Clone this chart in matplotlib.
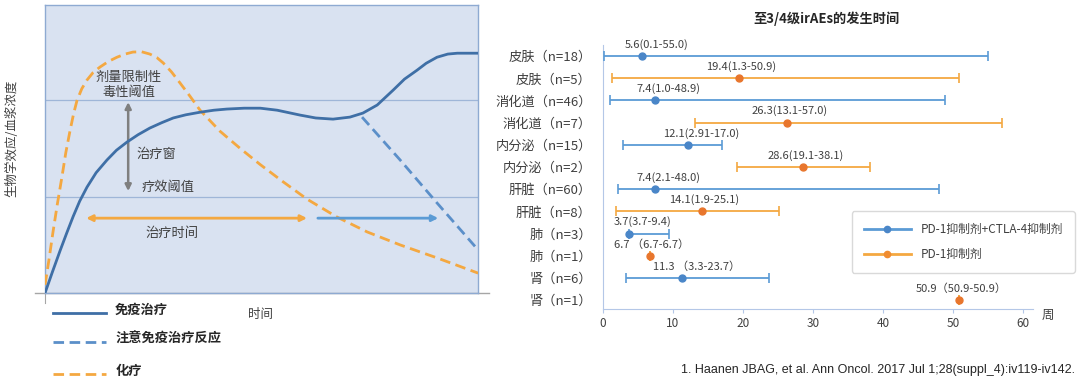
import matplotlib
matplotlib.use("Agg")
import matplotlib.pyplot as plt
from matplotlib.lines import Line2D

plt.rcParams["font.family"] = ["Noto Sans CJK SC", "DejaVu Sans"]

# ---- left panel: schematic curves (x: time 0-100, y: effect 0-100) ----
immuno_x = [0, 1.7, 3.5, 5.0, 6.5, 8.0, 9.7, 11.8, 14.3, 16.5, 18.9, 21.5, 24.2, 27.0,
            29.6, 32.5, 35.8, 39.0, 42.0, 46.0, 49.7, 53.6, 58.9, 62.5, 66.5, 70.4,
            73.4, 76.7, 80.4, 83.0, 85.9, 88.0, 90.5, 93.0, 95.2, 100]
immuno_y = [0, 7.3, 14.8, 20.8, 26.6, 31.9, 36.8, 41.8, 46.2, 49.6, 52.4, 55.0, 57.3, 59.2,
            60.8, 61.9, 62.8, 63.5, 63.9, 64.2, 64.2, 63.5, 61.8, 60.8, 60.4, 61.1,
            62.5, 65.3, 70.5, 74.3, 77.4, 79.8, 81.9, 83.0, 83.3, 83.3]
reaction_x = [73.2, 82.0, 90.5, 99.8]
reaction_y = [61.1, 46.2, 31.3, 15.3]
chemo_x = [0, 0.9, 1.8, 2.8, 3.9, 4.8, 5.8, 6.6, 7.4, 8.5, 9.7, 11.1, 12.7, 14.6, 16.6,
           18.5, 20.3, 22.3, 24.2, 25.8, 27.3, 29.2, 31.2, 33.5, 35.8, 40.4, 45.0, 49.7,
           55.0, 60.5, 67.4, 74.4, 82.0, 90.5, 100]
chemo_y = [2.8, 11.5, 20.8, 30.5, 40.3, 48.8, 56.6, 62.3, 67.0, 71.0, 74.0, 76.6, 78.5, 80.4,
           81.9, 83.0, 83.7, 83.8, 83.0, 81.8, 79.9, 76.8, 72.9, 68.3, 63.5, 56.2, 50.3, 44.6,
           38.6, 32.6, 26.4, 21.2, 16.7, 12.2, 6.9]
toxic_level = 67.0
effect_level = 33.3

# ---- right panel: onset of grade 3/4 irAEs (weeks) ----
rows = ["皮肤（n=18）", "皮肤（n=5）", "消化道（n=46）", "消化道（n=7）",
        "内分泌（n=15）", "内分泌（n=2）", "肝脏（n=60）", "肝脏（n=8）",
        "肺（n=3）", "肺（n=1）", "肾（n=6）", "肾（n=1）"]
median = [5.6, 19.4, 7.4, 26.3, 12.1, 28.6, 7.4, 14.1, 3.7, 6.7, 11.3, 50.9]
low = [0.1, 1.3, 1.0, 13.1, 2.91, 19.1, 2.1, 1.9, 3.7, 6.7, 3.3, 50.9]
high = [55.0, 50.9, 48.9, 57.0, 17.0, 38.1, 48.0, 25.1, 9.4, 6.7, 23.7, 50.9]
value_labels = ["5.6(0.1-55.0)", "19.4(1.3-50.9)", "7.4(1.0-48.9)", "26.3(13.1-57.0)",
                "12.1(2.91-17.0)", "28.6(19.1-38.1)", "7.4(2.1-48.0)", "14.1(1.9-25.1)",
                "3.7(3.7-9.4)", "6.7 （6.7-6.7）", "11.3 （3.3-23.7）", "50.9（50.9-50.9）"]
group = ["combo", "mono"] * 6

BLUE_DARK = "#3f6fa6"
BLUE = "#5b9bd5"
ORANGE = "#f4a841"
TEXT = "#404040"

fig = plt.figure(figsize=(10.8, 3.89), dpi=100)

# left schematic
ax = fig.add_axes([0.0417, 0.2468, 0.401, 0.740])
ax.set_facecolor("#d9e2f1")
ax.set_xlim(0, 100)
ax.set_ylim(0, 100)
ax.set_xticks([])
ax.set_yticks([])
for s in ax.spines.values():
    s.set_color("#8eaad2")
    s.set_linewidth(1.0)
ax.axhline(toxic_level, color="#9fb6d8", lw=0.9)
ax.axhline(effect_level, color="#9fb6d8", lw=0.9)
ax.plot([-2.3, 102.5], [0, 0], color="#a6a6a6", lw=1.0, clip_on=False)
ax.plot([0, 0], [0, -3.5], color="#a6a6a6", lw=0.8, clip_on=False)

dash = (0, (3.8, 2.0))
ax.plot(chemo_x, chemo_y, color=ORANGE, lw=2.0, ls=dash, zorder=3)
ax.plot(reaction_x, reaction_y, color="#5b8fc9", lw=2.0, ls=dash, zorder=3)
ax.plot(immuno_x, immuno_y, color=BLUE_DARK, lw=2.0, zorder=4)

ax.annotate("", xy=(19.2, 66.3), xytext=(19.2, 35.4),
            arrowprops=dict(arrowstyle="<|-|>", color="#7f7f7f", lw=1.8,
                            mutation_scale=9, shrinkA=0, shrinkB=0))
ax.annotate("", xy=(9.5, 26.0), xytext=(60.5, 26.0),
            arrowprops=dict(arrowstyle="<|-|>", color=ORANGE, lw=2.0,
                            mutation_scale=9, shrinkA=0, shrinkB=0))
ax.annotate("", xy=(90.8, 26.0), xytext=(63.0, 26.0),
            arrowprops=dict(arrowstyle="-|>", color=BLUE, lw=2.0,
                            mutation_scale=9, shrinkA=0, shrinkB=0))

ax.text(19.4, 72.2, "剂量限制性\n毒性阈值", ha="center", va="center", fontsize=9.5,
        color=TEXT, linespacing=1.15)
ax.text(21.2, 48.3, "治疗窗", ha="left", va="center", fontsize=9.5, color=TEXT)
ax.text(22.4, 36.5, "疗效阈值", ha="left", va="center", fontsize=9.5, color=TEXT)
ax.text(29.3, 20.8, "治疗时间", ha="center", va="center", fontsize=9.5, color=TEXT)
ax.text(49.7, -7.6, "时间", ha="center", va="center", fontsize=9, color=TEXT)

legend_items = [("免疫治疗", BLUE_DARK, "-", -6.9),
                ("注意免疫治疗反应", "#5b8fc9", dash, -17.0),
                ("化疗", ORANGE, dash, -28.1)]
for label, color, style, y in legend_items:
    ax.plot([1.8, 14.1], [y, y], color=color, lw=2.0, ls=style, clip_on=False)
    ax.text(16.2, y + 1.0, label, ha="left", va="center", fontsize=9.5,
            fontweight="bold", color="#262626")

fig.text(0.011, 0.645, "生物学效应/血浆浓度", rotation=90, ha="center", va="center",
         fontsize=9, color=TEXT)

# right forest plot
bx = fig.add_axes([0.5583, 0.2057, 0.398, 0.6787])
n = len(rows)
ypos = [n - 1 - i for i in range(n)]
styles = {"combo": dict(line=BLUE, marker="#4a86c8"),
          "mono": dict(line=ORANGE, marker="#e8762d")}
for i in range(n):
    st = styles[group[i]]
    bx.errorbar([median[i]], [ypos[i]],
                xerr=[[median[i] - low[i]], [high[i] - median[i]]],
                fmt="o", ms=5, mfc=st["marker"], mec=st["marker"],
                ecolor=st["line"], elinewidth=1.3, capsize=3.5, capthick=1.2, zorder=3)
    bx.text(median[i] + (2.0 if group[i] == "combo" and median[i] < 13 else 0.3),
            ypos[i] + 0.28, value_labels[i], ha="center", va="bottom",
            fontsize=8, color=TEXT)

bx.set_xlim(0, 61.4)
bx.set_ylim(-0.4, n - 1 + 0.5)
bx.set_xticks([0, 10, 20, 30, 40, 50, 60])
bx.set_yticks(ypos)
bx.set_yticklabels(rows, fontsize=9.5, color=TEXT)
bx.tick_params(axis="y", length=0, pad=8)
bx.tick_params(axis="x", length=3, color="#b4c7e7", labelsize=8.5, labelcolor=TEXT, pad=3)
for side in ["top", "right"]:
    bx.spines[side].set_visible(False)
bx.spines["left"].set_color("#b4c7e7")
bx.spines["bottom"].set_color("#b4c7e7")
bx.text(63.6, -0.4, "周", transform=bx.transData, ha="center", va="top",
        fontsize=9, color=TEXT)
bx.set_title("至3/4级irAEs的发生时间", fontsize=9.5, fontweight="bold", color="#262626",
             x=0.52, pad=16)

handles = [Line2D([], [], color=BLUE, marker="o", ms=4.5, mfc="#4a86c8", mec="#4a86c8", lw=2),
           Line2D([], [], color=ORANGE, marker="o", ms=4.5, mfc="#f08c30", mec="#f08c30", lw=2)]
leg = bx.legend(handles, ["PD-1抑制剂+CTLA-4抑制剂", "PD-1抑制剂"],
                loc="center", bbox_to_anchor=(0.892, 0.378), bbox_transform=fig.transFigure,
                fontsize=8.5, handlelength=4.0, labelspacing=1.0, borderpad=1.0,
                fancybox=True, edgecolor="#d9d9d9", framealpha=1)
for t in leg.get_texts():
    t.set_color(TEXT)

fig.text(0.995, 0.049, "1. Haanen JBAG, et al. Ann Oncol. 2017 Jul 1;28(suppl_4):iv119-iv142.",
         ha="right", va="center", fontsize=9, family="Liberation Sans", color="#262626")

fig.savefig("out.png", dpi=100)
